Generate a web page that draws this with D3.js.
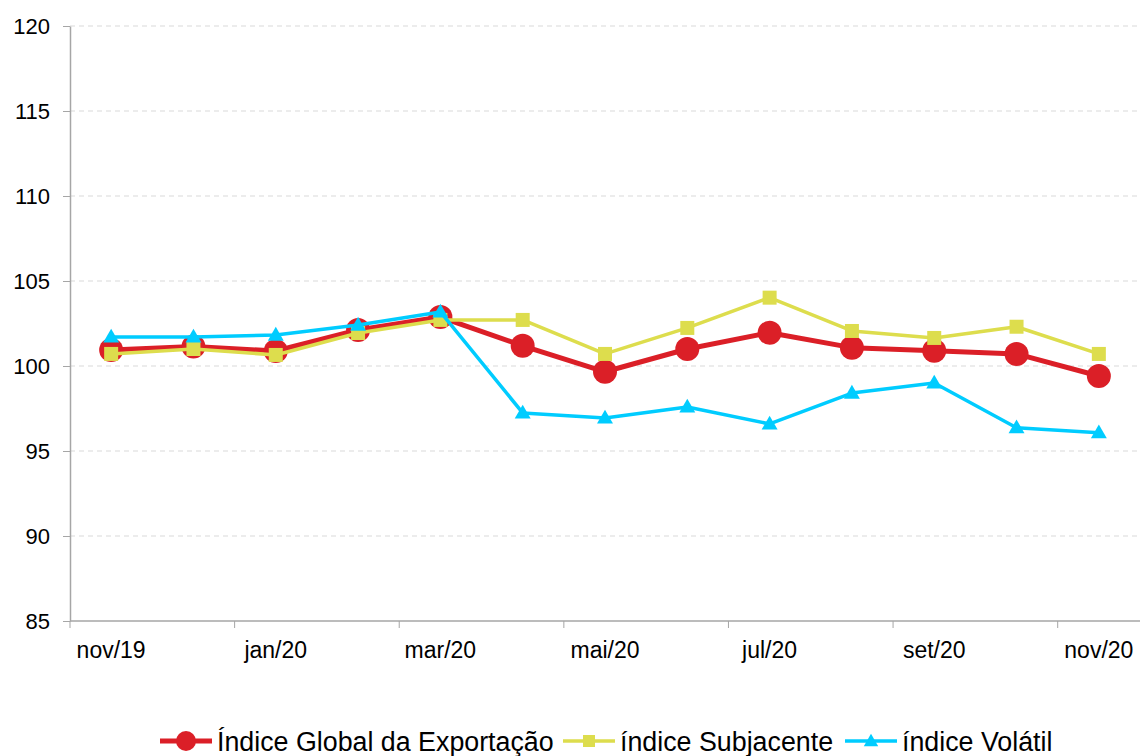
<!DOCTYPE html>
<html>
<head>
<meta charset="utf-8">
<script src="https://cdn.jsdelivr.net/npm/d3@7"></script>
<style>
  body { margin: 0; background: #fff; }
  svg { font-family: "Liberation Sans", Arial, sans-serif; }
  .axis path, .axis line { stroke: #a6a6a6; }
  .axis text { fill: #000; font-size: 22px; font-family: "Liberation Sans", Arial, sans-serif; }
  .axis text.lbl { font-size: 23px; }
</style>
</head>
<body>
<div id="chart"></div>
<script>
// data
var months = ["nov/19", "dez/19", "jan/20", "fev/20", "mar/20", "abr/20", "mai/20",
  "jun/20", "jul/20", "ago/20", "set/20", "out/20", "nov/20"];
var globalIdx = [100.94, 101.14, 100.88, 102.12, 102.88, 101.19, 99.66, 101.0, 101.96, 101.08, 100.9, 100.71, 99.41];
var subjacente = [100.71, 101.0, 100.65, 101.94, 102.71, 102.71, 100.71, 102.24, 104.02, 102.06, 101.65, 102.31, 100.71];
var volatil = [101.71, 101.71, 101.82, 102.41, 103.18, 97.24, 96.94, 97.59, 96.59, 98.41, 99.0, 96.37, 96.08];
var yTicks = [85, 90, 95, 100, 105, 110, 115, 120];
var seriesNames = ["Índice Global da Exportação", "índice Subjacente", "índice Volátil"];

var svgWidth = 1140;
var svgHeight = 756;
var margin = { top: 26, right: 0, bottom: 135, left: 70 };
var width = svgWidth - margin.left - margin.right;
var height = svgHeight - margin.top - margin.bottom;

var svg = d3.select("#chart")
  .append("svg")
  .attr("width", svgWidth)
  .attr("height", svgHeight);

var chartGroup = svg.append("g")
  .attr("transform", `translate(${margin.left}, ${margin.top})`);

var x = d3.scaleBand().domain(months).range([0, width]).padding(0);
var y = d3.scaleLinear().domain([85, 120]).range([height, 0]);
var cx = d => x(d) + x.bandwidth() / 2;

// gridlines
chartGroup.append("g")
  .selectAll("line")
  .data(yTicks.filter(t => t > 85))
  .enter()
  .append("line")
  .attr("x1", 0)
  .attr("x2", width)
  .attr("y1", d => y(d))
  .attr("y2", d => y(d))
  .attr("stroke", "#d9d9d9")
  .attr("stroke-width", 1)
  .attr("stroke-dasharray", "5,4");

// y axis
var leftAxis = d3.axisLeft(y).tickValues(yTicks).tickSize(7).tickPadding(13).tickSizeOuter(0);
chartGroup.append("g")
  .attr("class", "axis")
  .call(leftAxis)
  .attr("font-family", null)
  .attr("font-size", null)
  .call(g => g.select(".domain").attr("stroke-width", 1.5));

// x axis: labels on every other month, tick marks on band edges
var labelled = months.filter((m, i) => i % 2 === 0);
var xg = chartGroup.append("g")
  .attr("class", "axis")
  .attr("transform", `translate(0, ${height})`);
xg.append("line")
  .attr("x1", 0).attr("x2", width)
  .attr("stroke", "#a6a6a6").attr("stroke-width", 1.5);
xg.selectAll(".tk")
  .data(labelled)
  .enter()
  .append("line")
  .attr("class", "tk")
  .attr("x1", d => x(d)).attr("x2", d => x(d))
  .attr("y1", 0).attr("y2", 7);
xg.selectAll(".lbl")
  .data(labelled)
  .enter()
  .append("text")
  .attr("class", "lbl")
  .attr("x", d => cx(d))
  .attr("y", 37)
  .attr("text-anchor", "middle")
  .text(d => d);

// lines
var line = d3.line().x((d, i) => cx(months[i])).y(d => y(d));

var styles = [
  { data: globalIdx, color: "#db1f27", width: 5, marker: "circle" },
  { data: subjacente, color: "#dddd4d", width: 3.5, marker: "square" },
  { data: volatil, color: "#00ccff", width: 3.5, marker: "triangle" }
];

function marker(g, type, color, xs, ys) {
  if (type === "circle") {
    g.append("circle").attr("cx", xs).attr("cy", ys).attr("r", 12).attr("fill", color);
  } else if (type === "square") {
    g.append("rect").attr("x", xs - 7).attr("y", ys - 7).attr("width", 14).attr("height", 14).attr("fill", color);
  } else {
    g.append("path")
      .attr("d", d3.symbol().type(d3.symbolTriangle).size(110)())
      .attr("transform", `translate(${xs}, ${ys + 1})`)
      .attr("fill", color);
  }
}

styles.forEach(function(s) {
  var g = chartGroup.append("g");
  g.append("path")
    .datum(s.data)
    .attr("d", line)
    .attr("fill", "none")
    .attr("stroke", s.color)
    .attr("stroke-width", s.width)
    .attr("stroke-linejoin", "round");
  s.data.forEach(function(v, i) {
    marker(g, s.marker, s.color, cx(months[i]), y(v));
  });
});

// legend
var legendX = [160, 563, 845];
var legend = svg.append("g").attr("transform", "translate(0, 741)");
styles.forEach(function(s, i) {
  var g = legend.append("g").attr("transform", `translate(${legendX[i]}, 0)`);
  g.append("line").attr("x1", 0).attr("x2", 52).attr("y1", 0).attr("y2", 0)
    .attr("stroke", s.color).attr("stroke-width", s.width);
  if (s.marker === "circle") {
    g.append("circle").attr("cx", 26).attr("cy", 0).attr("r", 10).attr("fill", s.color);
  } else if (s.marker === "square") {
    g.append("rect").attr("x", 20).attr("y", -6).attr("width", 12).attr("height", 12).attr("fill", s.color);
  } else {
    g.append("path").attr("d", d3.symbol().type(d3.symbolTriangle).size(90)())
      .attr("transform", "translate(26, 1)").attr("fill", s.color);
  }
  g.append("text")
    .attr("x", 57)
    .attr("y", 10)
    .attr("font-size", 26.8)
    .attr("fill", "#000")
    .text(seriesNames[i]);
});
</script>
</body>
</html>
